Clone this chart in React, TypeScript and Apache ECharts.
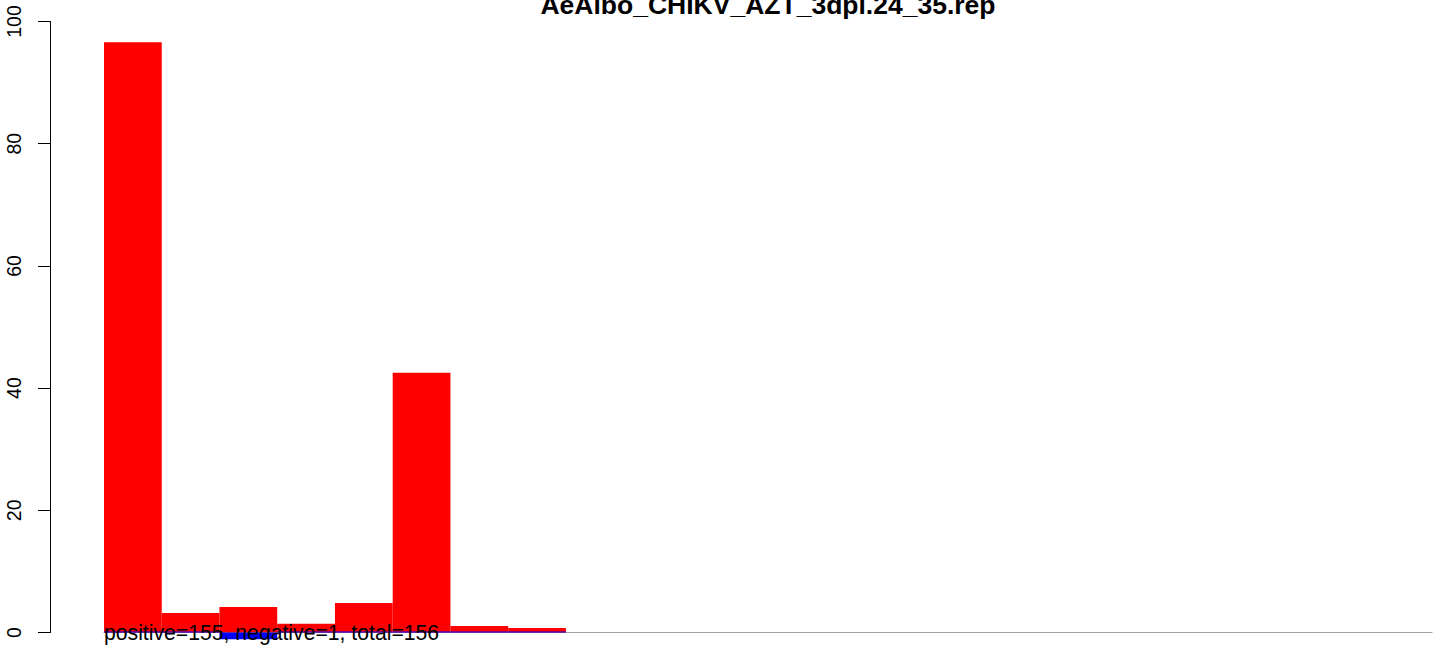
import React, { useEffect, useRef } from "react";
import * as echarts from "echarts";

const titleText = "AeAlbo_CHIKV_AZT_3dpi.24_35.rep";
const noteText = "positive=155, negative=1, total=156";
const categories = Array.from({ length: 23 }, (_, i) => String(i + 1));
const positiveValues: (number | null)[] = [96.6, 3.2, 4.17, 1.44, 4.83, 42.5, 1.06, 0.74];
const negativeValues: (number | null)[] = [0, 0, -1.1, 0, 0, 0, 0, 0];
const yTicks = [0, 20, 40, 60, 80, 100];

const FONT = "'Liberation Sans', Arial, Helvetica, sans-serif";

export default function App() {
  const ref = useRef<HTMLDivElement>(null);
  useEffect(() => {
    if (!ref.current) return;
    const chart = echarts.init(ref.current, undefined, { renderer: "svg" });
    const gridLeft = 104;
    const gridRight = 12;
    const centerX = gridLeft + (1444 - gridLeft - gridRight) / 2;
    chart.setOption({
      animation: false,
      backgroundColor: "#ffffff",
      grid: { left: gridLeft, right: gridRight, top: 21.5, bottom: 22.5, containLabel: false },
      xAxis: {
        type: "category",
        data: categories,
        boundaryGap: true,
        axisLine: { show: true, onZero: true, lineStyle: { color: "#a0a0a0", width: 1.2 } },
        axisTick: { show: false },
        axisLabel: { show: false },
        splitLine: { show: false },
      },
      yAxis: {
        type: "value",
        min: yTicks[0],
        max: yTicks[yTicks.length - 1],
        interval: 20,
        offset: 54,
        axisLine: { show: true, lineStyle: { color: "#000", width: 1 } },
        axisTick: { show: true, length: 12, lineStyle: { color: "#000", width: 1 } },
        axisLabel: {
          rotate: 90,
          fontSize: 19.5,
          color: "#000",
          fontFamily: FONT,
          margin: 26,
        },
        splitLine: { show: false },
      },
      series: [
        {
          type: "bar",
          data: positiveValues,
          barWidth: "100%",
          barGap: "-100%",
          itemStyle: { color: "#ff0000" },
          clip: false,
          z: 2,
        },
        {
          type: "bar",
          data: negativeValues,
          barWidth: "100%",
          barGap: "-100%",
          barMinHeight: 1,
          itemStyle: { color: "#0000ff" },
          clip: false,
          z: 3,
        },
      ],
      graphic: [
        {
          type: "text",
          x: centerX,
          y: 5,
          z: 10,
          style: {
            text: titleText,
            fontSize: 26.5,
            fontWeight: "bold",
            fontFamily: FONT,
            fill: "#000",
            align: "center",
            verticalAlign: "middle",
          },
        },
        {
          type: "text",
          x: gridLeft,
          y: 632.5,
          z: 10,
          style: {
            text: noteText,
            fontSize: 21.2,
            fontFamily: FONT,
            fill: "#000",
            align: "left",
            verticalAlign: "middle",
          },
        },
      ],
    });
    return () => chart.dispose();
  }, []);
  return (
    <div
      ref={ref}
      style={{ position: "fixed", left: 0, top: 0, width: "1444px", height: "655px", background: "#fff" }}
    />
  );
}
